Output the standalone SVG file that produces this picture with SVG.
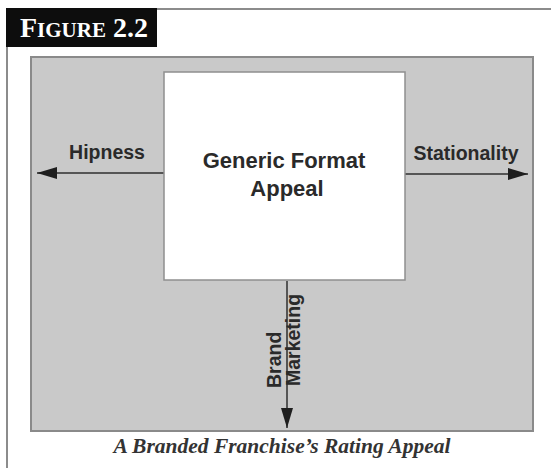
<svg xmlns="http://www.w3.org/2000/svg" width="551" height="468" viewBox="0 0 551 468">
  <style>
    .frame { fill: none; stroke: #8c8c8c; stroke-width: 2; }
    .field { fill: #c9c9c9; stroke: #8a8a8a; stroke-width: 2; }
    .box { fill: #ffffff; stroke: #8f8f8f; stroke-width: 1.5; }
    .label { font-family: "Liberation Sans", Arial, sans-serif; font-weight: bold; font-size: 19.5px; fill: #2a2a2a; }
    .core { font-family: "Liberation Sans", Arial, sans-serif; font-weight: bold; font-size: 22px; fill: #2a2a2a; text-anchor: middle; }
    .axis { stroke: #2e2e2e; stroke-width: 1.5; fill: none; marker-end: url(#head); }
    .title { font-family: "Liberation Serif", "Times New Roman", serif; font-weight: bold; fill: #ffffff; }
    .caption { font-family: "Liberation Serif", "Times New Roman", serif; font-weight: bold; font-style: italic; font-size: 21.5px; fill: #333333; text-anchor: middle; }
  </style>
  <defs>
    <marker id="head" viewBox="0 0 20 12" refX="20" refY="6" markerWidth="20" markerHeight="12" markerUnits="userSpaceOnUse" orient="auto">
      <path d="M0,0 L20,6 L0,12 Z" fill="#1e1e1e"/>
    </marker>
  </defs>

  <rect width="551" height="468" fill="#ffffff"/>

  <!-- page frame and heading tab -->
  <path class="frame" d="M7,468 V9 H551"/>
  <g id="heading">
    <rect x="6" y="8" width="151" height="39" fill="#0d0d0d"/>
    <text class="title" x="20" y="37" font-size="28">F<tspan font-size="21">IGURE</tspan> 2.2</text>
  </g>

  <!-- grey field -->
  <rect class="field" x="31" y="57" width="502" height="374"/>

  <!-- axes -->
  <g id="connectors">
    <line class="axis" x1="164" y1="173" x2="37" y2="173"/>
    <line class="axis" x1="405" y1="174" x2="528" y2="174"/>
    <line class="axis" x1="287" y1="281" x2="287" y2="428"/>
  </g>

  <g id="core">
    <rect class="box" x="164" y="72" width="241" height="208"/>
    <text class="core" x="284" y="168">Generic Format</text>
    <text class="core" x="287" y="196">Appeal</text>
  </g>

  <g id="hipness">
    <text class="label" x="107" y="159" text-anchor="middle">Hipness</text>
  </g>

  <g id="stationality">
    <text class="label" x="466" y="160" text-anchor="middle">Stationality</text>
  </g>

  <g id="brand-marketing">
    <text class="label" transform="translate(281,388) rotate(-90)">Brand</text>
    <text class="label" transform="translate(300,386) rotate(-90)">Marketing</text>
  </g>

  <g id="caption">
    <text class="caption" x="282" y="453">A Branded Franchise’s Rating Appeal</text>
  </g>
</svg>
